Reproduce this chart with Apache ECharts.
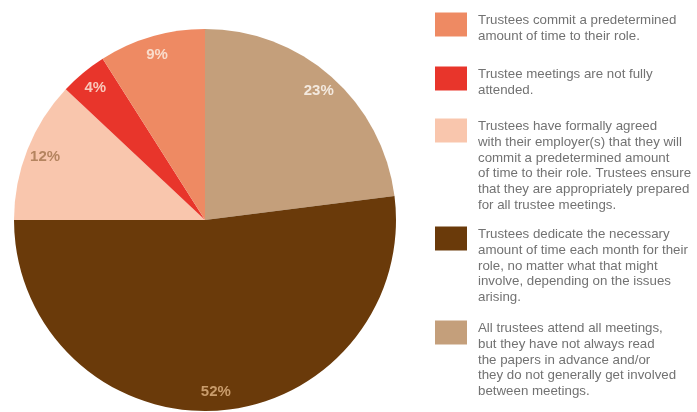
<!DOCTYPE html>
<html>
<head>
<meta charset="utf-8">
<script src="https://cdn.jsdelivr.net/npm/echarts@6/dist/echarts.min.js"></script>
<style>
html,body{margin:0;padding:0;background:#fff;}
#c{width:697px;height:412px;}
</style>
</head>
<body>
<div id="c"></div>
<script>
// Slices in clockwise order from 12 o'clock
const categories = [
  "All trustees attend all meetings, but they have not always read the papers in advance and/or they do not generally get involved between meetings.",
  "Trustees dedicate the necessary amount of time each month for their role, no matter what that might involve, depending on the issues arising.",
  "Trustees have formally agreed with their employer(s) that they will commit a predetermined amount of time to their role. Trustees ensure that they are appropriately prepared for all trustee meetings.",
  "Trustee meetings are not fully attended.",
  "Trustees commit a predetermined amount of time to their role."
];
const values = [23, 52, 12, 4, 9];
const sliceColors = ["#C49F7B", "#6A3A0A", "#F9C6AD", "#E8352B", "#EE8A63"];
const labelColors = ["#F3E9DF", "#C99C6C", "#B5845F", "#F8C9BC", "#F9DCCB"];

// Legend (top to bottom) with its line breaks
const legendOrder = [4, 3, 2, 1, 0];
const legendLines = {};
legendLines[categories[4]] = ["Trustees commit a predetermined", "amount of time to their role."];
legendLines[categories[3]] = ["Trustee meetings are not fully", "attended."];
legendLines[categories[2]] = ["Trustees have formally agreed", "with their employer(s) that they will", "commit a predetermined amount", "of time to their role. Trustees ensure", "that they are appropriately prepared", "for all trustee meetings."];
legendLines[categories[1]] = ["Trustees dedicate the necessary", "amount of time each month for their", "role, no matter what that might", "involve, depending on the issues", "arising."];
legendLines[categories[0]] = ["All trustees attend all meetings,", "but they have not always read", "the papers in advance and/or", "they do not generally get involved", "between meetings."];
const legendTops = [12, 66, 118, 226, 320];

const LH = 15.8, ICON_H = 24;
const FONT = 'Liberation Sans, Arial, sans-serif';
const legends = legendOrder.map((idx, k) => {
  const name = categories[idx];
  const n = legendLines[name].length;
  const G = Math.max(1, n * LH - ICON_H);
  return {
    orient: 'vertical',
    left: 435,
    top: legendTops[k] - G / 2,
    padding: 0,
    itemWidth: 32,
    itemHeight: 24,
    icon: 'rect',
    selectedMode: false,
    data: [name],
    formatter: nm => '{g| }\n' + legendLines[nm].map(s => '{t|' + s + '}').join('\n'),
    textStyle: {
      fontFamily: FONT,
      fontSize: 13.3,
      color: '#727272',
      padding: [0, 0, 0, 6],
      rich: {
        g: { fontSize: 1, lineHeight: G, fontFamily: FONT },
        t: { fontSize: 13.3, lineHeight: LH, color: '#727272', fontFamily: FONT }
      }
    }
  };
});

const pieData = categories.map((c, i) => ({
  name: c, value: values[i], itemStyle: { color: sliceColors[i] }
}));
const labelData = categories.map((c, i) => ({
  name: c, value: values[i],
  label: { color: labelColors[i] }
}));

const chart = echarts.init(document.getElementById('c'), null, { renderer: 'canvas' });
chart.setOption({
  animation: false,
  backgroundColor: '#ffffff',
  legend: legends,
  series: [
    {
      type: 'pie',
      center: [205, 220],
      radius: [0, 191],
      startAngle: 90,
      clockwise: true,
      silent: true,
      label: { show: false },
      labelLine: { show: false },
      itemStyle: { borderWidth: 0 },
      data: pieData
    },
    {
      type: 'pie',
      center: [205, 220],
      radius: [147, 191],
      startAngle: 90,
      clockwise: true,
      silent: true,
      itemStyle: { color: 'rgba(0,0,0,0)', borderWidth: 0 },
      label: {
        show: true,
        position: 'inside',
        formatter: '{c}%',
        fontFamily: FONT,
        fontSize: 15,
        fontWeight: 'bold'
      },
      labelLine: { show: false },
      emphasis: { disabled: true },
      data: labelData
    }
  ]
});
</script>
</body>
</html>
